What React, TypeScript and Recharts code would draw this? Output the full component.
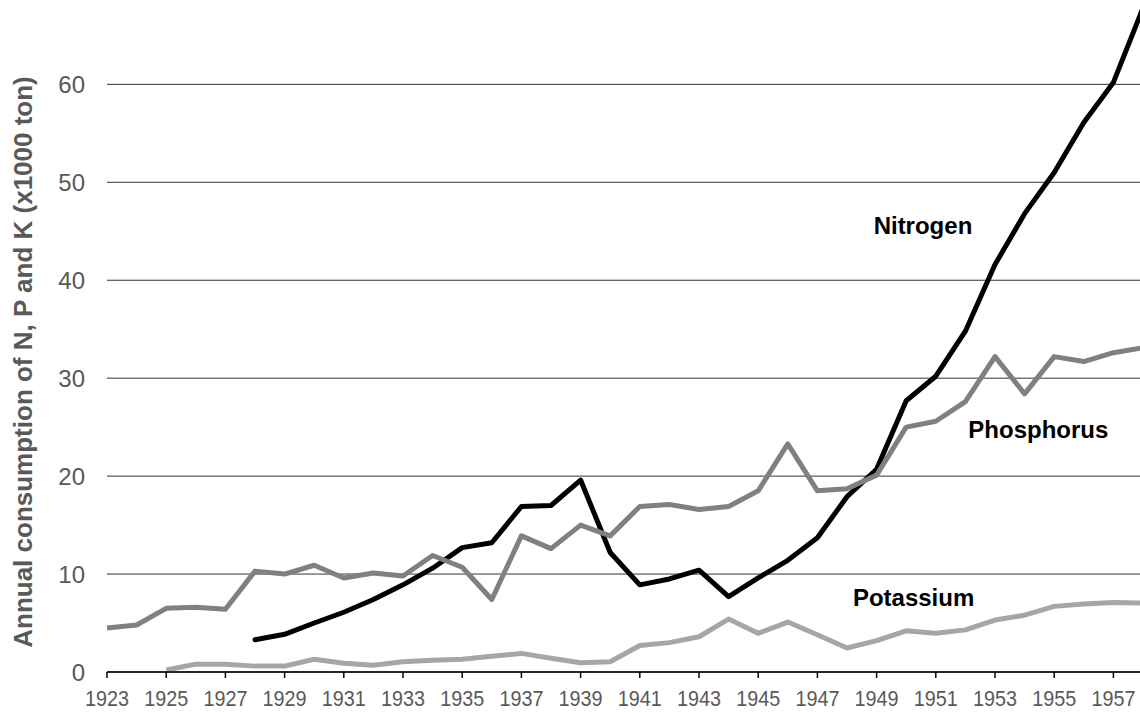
import { LineChart, Line, XAxis, YAxis, CartesianGrid, ReferenceDot } from 'recharts'

const years = [
  1923, 1924, 1925, 1926, 1927, 1928, 1929, 1930, 1931, 1932, 1933, 1934,
  1935, 1936, 1937, 1938, 1939, 1940, 1941, 1942, 1943, 1944, 1945, 1946,
  1947, 1948, 1949, 1950, 1951, 1952, 1953, 1954, 1955, 1956, 1957, 1958,
]

const nitrogen = [
  null, null, null, null, null, 3.3, 3.85, 5.0, 6.1, 7.4, 8.9, 10.6,
  12.7, 13.2, 16.9, 17.0, 19.6, 12.2, 8.9, 9.5, 10.4, 7.7, 9.6, 11.4,
  13.7, 17.9, 20.7, 27.7, 30.2, 34.8, 41.6, 46.8, 51.0, 56.1, 60.2, 67.8,
]

const phosphorus = [
  4.5, 4.8, 6.5, 6.6, 6.4, 10.3, 10.0, 10.9, 9.6, 10.1, 9.8, 11.9,
  10.7, 7.4, 13.9, 12.6, 15.0, 13.9, 16.9, 17.1, 16.6, 16.9, 18.5, 23.3,
  18.5, 18.7, 20.1, 25.0, 25.6, 27.6, 32.2, 28.4, 32.2, 31.7, 32.6, 33.1,
]

const potassium = [
  null, null, 0.2, 0.8, 0.8, 0.6, 0.6, 1.3, 0.9, 0.7, 1.05, 1.2,
  1.3, 1.6, 1.9, 1.4, 0.95, 1.05, 2.7, 3.0, 3.6, 5.4, 3.95, 5.1,
  3.8, 2.45, 3.2, 4.2, 3.95, 4.3, 5.3, 5.8, 6.7, 6.95, 7.1, 7.05,
]

const xTicks = [1923, 1925, 1927, 1929, 1931, 1933, 1935, 1937, 1939, 1941,
  1943, 1945, 1947, 1949, 1951, 1953, 1955, 1957]
const yTicks = [0, 10, 20, 30, 40, 50, 60]

const annotations = [
  { label: 'Nitrogen', year: 1948.9, value: 44.7 },
  { label: 'Phosphorus', year: 1952.1, value: 23.9 },
  { label: 'Potassium', year: 1948.2, value: 6.7 },
]

const FONT = '"Liberation Sans", Arial, sans-serif'
const AXIS_GREY = '#595959'

const data = years.map((y, i) => ({
  year: y,
  nitrogen: nitrogen[i],
  phosphorus: phosphorus[i],
  potassium: potassium[i],
}))

function YTitle({ viewBox }: { viewBox?: { x: number; y: number; width: number; height: number } }) {
  if (!viewBox) return null
  const cx = viewBox.x + 32
  const cy = viewBox.y + viewBox.height / 2 + 23
  return (
    <text
      x={cx}
      y={cy}
      transform={`rotate(-90 ${cx} ${cy})`}
      textAnchor="middle"
      fontFamily={FONT}
      fontSize={26}
      fontWeight="bold"
      fill={AXIS_GREY}
    >
      Annual consumption of N, P and K (x1000 ton)
    </text>
  )
}

// year labels look a bit condensed in the original, so squeeze them horizontally
function YearTick({ x, y, payload }: { x?: number; y?: number; payload?: { value: number } }) {
  if (x == null || y == null || !payload) return null
  return (
    <text
      x={x}
      y={y}
      dy="0.71em"
      textAnchor="middle"
      transform={`translate(${x} 0) scale(0.9 1) translate(${-x} 0)`}
      fontFamily={FONT}
      fontSize={22}
      fill={AXIS_GREY}
    >
      {payload.value}
    </text>
  )
}

export default function App() {
  return (
    <div
      style={{
        position: 'absolute',
        left: 0,
        top: 0,
        width: 1140,
        height: 713,
        overflow: 'hidden',
        background: '#fff',
      }}
    >
      <LineChart
        width={1143}
        height={713}
        data={data}
        margin={{ top: 6, right: 0, left: 0, bottom: 0 }}
      >
        <CartesianGrid vertical={false} horizontalValues={yTicks} stroke="#333" strokeWidth={1} />
        <XAxis
          dataKey="year"
          type="number"
          domain={[1923, 1958]}
          ticks={xTicks}
          interval={0}
          height={41}
          axisLine={{ stroke: '#000', strokeWidth: 1.5 }}
          tickLine={{ stroke: '#000', strokeWidth: 1.5 }}
          tickSize={6}
          tickMargin={12}
          tick={<YearTick />}
        />
        <YAxis
          type="number"
          domain={[0, 68]}
          ticks={yTicks}
          width={107}
          axisLine={false}
          tickLine={false}
          tickSize={0}
          tickMargin={22}
          tick={{ fontSize: 24, fill: AXIS_GREY, fontFamily: FONT }}
          label={{ content: <YTitle /> }}
        />
        <Line
          dataKey="nitrogen"
          stroke="#000"
          strokeWidth={5}
          dot={false}
          strokeLinejoin="round"
          strokeLinecap="round"
          isAnimationActive={false}
        />
        <Line
          dataKey="phosphorus"
          stroke="#808080"
          strokeWidth={5}
          dot={false}
          strokeLinejoin="round"
          isAnimationActive={false}
        />
        <Line
          dataKey="potassium"
          stroke="#a6a6a6"
          strokeWidth={5}
          dot={false}
          strokeLinejoin="round"
          isAnimationActive={false}
        />
        {annotations.map((a) => (
          <ReferenceDot
            key={a.label}
            x={a.year}
            y={a.value}
            r={0}
            stroke="none"
            fill="none"
            label={{
              content: ({ viewBox }: { viewBox?: { x: number; y: number } }) =>
                viewBox ? (
                  <text
                    x={viewBox.x}
                    y={viewBox.y}
                    fontFamily={FONT}
                    fontSize={24}
                    fontWeight="bold"
                    fill="#000"
                  >
                    {a.label}
                  </text>
                ) : null,
            }}
          />
        ))}
      </LineChart>
    </div>
  )
}
